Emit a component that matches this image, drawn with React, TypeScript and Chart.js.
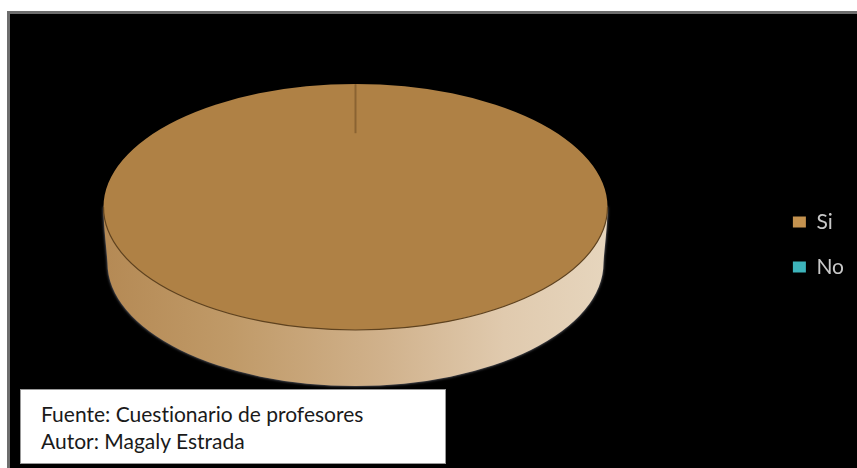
import React, { useEffect, useRef } from "react";
import { Chart, registerables } from "chart.js";

Chart.register(...registerables);

const categories = ["Si", "No"];
const values = [100, 0];
const faceColors = ["#AF8145", "#3DB4BB"];
const legendColors = ["#C4924F", "#3DB4BB"];
const sourceLines = ["Fuente: Cuestionario de profesores", "Autor: Magaly Estrada"];

const RX = 252;
const RY = 123;
const CX = 355.5;
const CY = 207;
const DEPTH = 56;
const BOTTOM_RX = 248;

const pie3d = {
  id: "pie3d",
  beforeDatasetsDraw(chart: any) {
    const ctx = chart.ctx;
    const arc = chart.getDatasetMeta(0).data[0];
    ctx.save();
    // extruded side of the disc
    const grad = ctx.createLinearGradient(CX - BOTTOM_RX, 0, CX + BOTTOM_RX, 0);
    grad.addColorStop(0, "#B58A55");
    grad.addColorStop(0.25, "#C09A68");
    grad.addColorStop(0.55, "#D0B18B");
    grad.addColorStop(0.8, "#E0CAAE");
    grad.addColorStop(1, "#E6D5BD");
    ctx.beginPath();
    ctx.moveTo(CX - RX, CY);
    ctx.bezierCurveTo(CX - RX, CY + 20, CX - BOTTOM_RX - 1, CY + 40, CX - BOTTOM_RX, CY + DEPTH);
    ctx.ellipse(CX, CY + DEPTH, BOTTOM_RX, RY, 0, Math.PI, 0, true);
    ctx.bezierCurveTo(CX + BOTTOM_RX + 1, CY + 40, CX + RX, CY + 20, CX + RX, CY);
    ctx.closePath();
    ctx.fillStyle = grad;
    ctx.shadowColor = "rgba(150,150,160,0.9)";
    ctx.shadowBlur = 3;
    ctx.fill();
    ctx.restore();
    // squash the library's circular arcs into the top ellipse
    ctx.save();
    ctx.translate(CX, CY);
    ctx.scale(1, RY / RX);
    ctx.translate(-arc.x, -arc.y);
  },
  afterDatasetsDraw(chart: any) {
    const ctx = chart.ctx;
    ctx.restore();
    ctx.save();
    // rim of the top face
    ctx.strokeStyle = "#5E421F";
    ctx.lineWidth = 1.2;
    ctx.beginPath();
    ctx.ellipse(CX, CY, RX, RY, 0, Math.PI, 0, true);
    ctx.stroke();
    // boundary between the two slices
    ctx.strokeStyle = "#8A6332";
    ctx.lineWidth = 2;
    ctx.beginPath();
    ctx.moveTo(CX, CY - RY);
    ctx.lineTo(CX, CY - RY * 0.6);
    ctx.stroke();
    ctx.restore();
  },
};

export default function App() {
  const ref = useRef<HTMLCanvasElement | null>(null);

  useEffect(() => {
    const chart = new Chart(ref.current as HTMLCanvasElement, {
      type: "pie",
      data: {
        labels: categories,
        datasets: [
          {
            data: values,
            backgroundColor: faceColors,
            borderWidth: 0,
          },
        ],
      },
      options: {
        responsive: false,
        animation: false,
        radius: RX,
        layout: { padding: { top: 21, right: 3 } },
        plugins: {
          tooltip: { enabled: false },
          title: { display: false },
          legend: {
            position: "right",
            labels: {
              color: "#C8C8C8",
              boxWidth: 13,
              boxHeight: 11,
              padding: 24,
              font: { family: "Lato, sans-serif", size: 21 },
              generateLabels: () =>
                categories.map((text, i) => ({
                  text,
                  fillStyle: legendColors[i],
                  strokeStyle: legendColors[i],
                  lineWidth: 0,
                  fontColor: "#C8C8C8",
                  index: i,
                })),
            },
          },
        },
      },
      plugins: [pie3d],
    } as any);
    return () => chart.destroy();
  }, []);

  return (
    <div style={{ position: "absolute", left: 0, top: 0, width: 857, height: 468, background: "#fff", overflow: "hidden" }}>
      <div
        style={{
          position: "absolute",
          left: 7,
          top: 11,
          width: 850,
          height: 457,
          boxSizing: "border-box",
          background: "#000",
          borderLeft: "3px solid #6E6E6E",
          borderTop: "3px solid #6E6E6E",
        }}
      />
      <canvas ref={ref} width={857} height={468} style={{ position: "absolute", left: 0, top: 0, display: "block" }} />
      <div
        style={{
          position: "absolute",
          left: 20,
          top: 389,
          width: 426,
          height: 75,
          boxSizing: "border-box",
          background: "#fff",
          border: "1px solid #999",
          paddingLeft: 20,
          paddingTop: 10,
          fontFamily: "Lato, sans-serif",
          fontSize: 21,
          fontVariantLigatures: "none",
          lineHeight: "27px",
          color: "#1a1a1a",
          whiteSpace: "nowrap",
        }}
      >
        {sourceLines.map((l) => (
          <div key={l}>{l}</div>
        ))}
      </div>
    </div>
  );
}
